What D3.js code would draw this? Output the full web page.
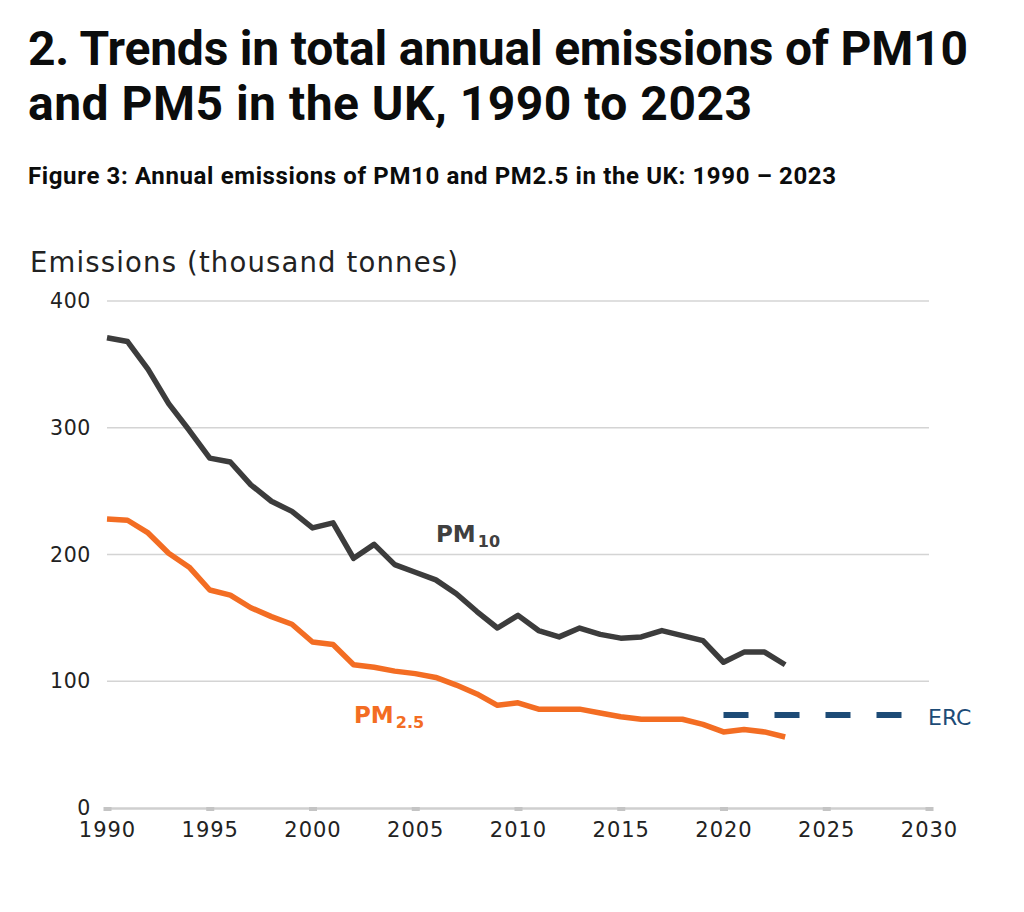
<!DOCTYPE html>
<html>
<head>
<meta charset="utf-8">
<script src="https://cdn.jsdelivr.net/npm/d3@7"></script>
<style>
  html, body { margin: 0; padding: 0; background: #fff; }
  svg { display: block; }
</style>
</head>
<body>
<svg id="chart" width="1024" height="912"></svg>
<script>
// ---- Data ----
const years = [1990,1991,1992,1993,1994,1995,1996,1997,1998,1999,2000,2001,2002,2003,2004,2005,2006,2007,2008,2009,2010,2011,2012,2013,2014,2015,2016,2017,2018,2019,2020,2021,2022,2023];
const pm10 = [371,368,346,319,298,276,273,255,242,234,221,225,197,208,192,186,180,169,155,142,152,140,135,142,137,134,135,140,136,132,115,123,123,113];
const pm25 = [228,227,217,201,190,172,168,158,151,145,131,129,113,111,108,106,103,97,90,81,83,78,78,78,75,72,70,70,70,66,60,62,60,56];
const ercYears = [2020, 2029];
const ercValue = 73.4;
const xTicks = [1990,1995,2000,2005,2010,2015,2020,2025,2030];
const yTicks = [0,100,200,300,400];

const titleLines = ["2. Trends in total annual emissions of PM10", "and PM5 in the UK, 1990 to 2023"];
const subtitle = "Figure 3: Annual emissions of PM10 and PM2.5 in the UK: 1990 \u2013 2023";
const yAxisTitle = "Emissions (thousand tonnes)";

// ---- Layout ----
const svg = d3.select("#chart");
const x = d3.scaleLinear().domain([1990, 2030]).range([107, 929]);
const y = d3.scaleLinear().domain([0, 400]).range([808, 301]);

const titleFont = "Roboto, 'Noto Sans', sans-serif";
const chartFont = "'DejaVu Sans', Verdana, sans-serif";

function fitText(sel, target) {
  const node = sel.node();
  const w = node.getComputedTextLength();
  const n = node.getNumberOfChars();
  if (n > 1) sel.attr("letter-spacing", ((target - w) / (n - 1)).toFixed(3));
}

// Titles
const t1 = svg.append("text").attr("x", 28).attr("y", 65)
  .attr("font-family", titleFont).attr("font-weight", 700).attr("font-size", 48)
  .attr("fill", "#0b0c0c").text(titleLines[0]);
fitText(t1, 940);
const t2 = svg.append("text").attr("x", 28).attr("y", 120)
  .attr("font-family", titleFont).attr("font-weight", 700).attr("font-size", 48)
  .attr("fill", "#0b0c0c").text(titleLines[1]);
fitText(t2, 724);
const st = svg.append("text").attr("x", 28).attr("y", 184)
  .attr("font-family", titleFont).attr("font-weight", 700).attr("font-size", 24)
  .attr("fill", "#0b0c0c").text(subtitle);
fitText(st, 808);

// Y axis title
const yt = svg.append("text").attr("x", 30).attr("y", 272)
  .attr("font-family", chartFont).attr("font-size", 27.5).attr("fill", "#222")
  .text(yAxisTitle);
fitText(yt, 428);

// Gridlines
const grid = svg.append("g");
grid.selectAll("line").data(yTicks.filter(d => d > 0)).join("line")
  .attr("x1", x(1990)).attr("x2", x(2030))
  .attr("y1", d => y(d)).attr("y2", d => y(d))
  .attr("stroke", "#d4d4d4").attr("stroke-width", 1.5);

// Y axis labels
const yAxis = d3.axisLeft(y).tickValues(yTicks).tickSize(0).tickPadding(0);
const gy = svg.append("g").attr("transform", `translate(${91},0)`).call(yAxis);
gy.select(".domain").remove();
gy.selectAll("text").attr("font-family", chartFont).attr("font-size", 20.5)
  .attr("letter-spacing", 0.6).attr("fill", "#222");

// X axis
const xAxis = d3.axisBottom(x).tickValues(xTicks).tickFormat(d3.format("d")).tickSize(0).tickPadding(0);
const gx = svg.append("g").attr("transform", `translate(0,${y(0)})`).call(xAxis);
gx.select(".domain").attr("stroke", "#cfcfcf").attr("stroke-width", 2.5);
gx.selectAll(".tick").append("rect")
  .attr("x", -4).attr("y", -1).attr("width", 8).attr("height", 4).attr("fill", "#c4c4c4");
gx.selectAll("text").attr("font-family", chartFont).attr("font-size", 21)
  .attr("letter-spacing", 1).attr("fill", "#222")
  .attr("dy", null).attr("y", 29);

// Lines
const line = d3.line().x((d, i) => x(years[i])).y(d => y(d));
svg.append("path").datum(pm10).attr("d", line)
  .attr("fill", "none").attr("stroke", "#3c3c3c").attr("stroke-width", 5.5)
  .attr("stroke-linejoin", "round");
svg.append("path").datum(pm25).attr("d", line)
  .attr("fill", "none").attr("stroke", "#f36d23").attr("stroke-width", 5.5)
  .attr("stroke-linejoin", "round");

// ERC dashed line
svg.append("path").datum(ercYears)
  .attr("d", d3.line().x(d => x(d)).y(() => y(ercValue)))
  .attr("fill", "none").attr("stroke", "#1d4b76").attr("stroke-width", 6)
  .attr("stroke-dasharray", "25,26");
svg.append("text").attr("x", 928).attr("y", y(ercValue) + 10)
  .attr("font-family", chartFont).attr("font-size", 22).attr("fill", "#1d4b76")
  .text("ERC");

// Series labels
function seriesLabel(xp, yp, main, sub, color) {
  const t = svg.append("text").attr("x", xp).attr("y", yp)
    .attr("font-family", chartFont).attr("font-weight", "bold").attr("fill", color)
    .attr("font-size", 23);
  t.append("tspan").text(main);
  t.append("tspan").attr("font-size", 16).attr("dy", 5).attr("dx", 2).text(sub);
}
seriesLabel(436, 542, "PM", "10", "#404040");
seriesLabel(354, 723, "PM", "2.5", "#f36d23");
</script>
</body>
</html>
